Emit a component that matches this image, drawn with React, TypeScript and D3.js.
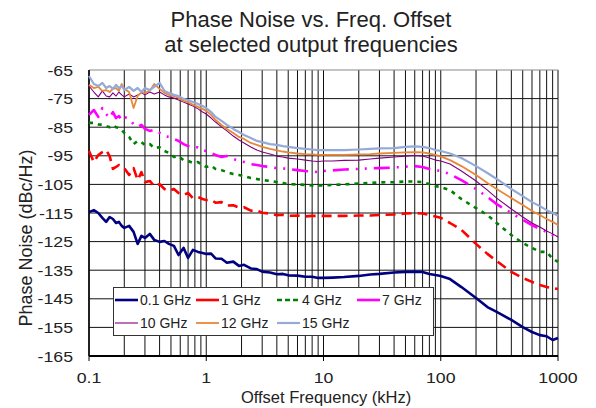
import React from 'react';
import * as d3 from 'd3';

const FREQ_KHZ = [
  0.1, 0.11, 0.12, 0.13, 0.14, 0.15, 0.16, 0.17, 0.18, 0.19, 0.2, 0.22, 0.24, 0.26, 0.28, 0.3, 0.33, 0.36, 0.4, 0.44, 0.48, 0.53, 0.58, 0.64, 0.7, 0.77, 0.85, 0.93,
  1.0, 1.1, 1.2, 1.35, 1.5, 1.7, 1.9, 2.1, 2.4, 2.7, 3.0, 3.5, 4, 4.5, 5, 6, 7, 8, 9,
  10, 12, 15, 20, 25, 30, 40, 50, 60, 70, 80, 90,
  100, 120, 150, 200, 250, 300, 400, 500, 600, 700, 800, 900, 1000,
];

const PN_0_1GHZ = [
  -114.7, -114, -115, -116.7, -118.1, -116.4, -117.1, -118.5, -118.1, -119.5, -120.2, -119.5, -121.6, -125.8, -123, -123.7, -122.3, -124.4, -125.1, -124.8, -125.8, -126.5, -129.7, -127.2, -130.7, -127.9, -128.6, -129,
  -129.3, -129.2, -130.9, -131, -132.4, -132, -133.5, -133.1, -134.4, -134.6, -135.5, -135.8, -136.4, -136.3, -136.8, -136.9, -137.3, -137.3, -137.7,
  -137.7, -137.6, -137.4, -137, -136.5, -136.3, -135.8, -135.6, -135.5, -135.6, -136.3, -136.7,
  -137, -138.1, -140.9, -144.7, -147.9, -149.6, -152.4, -154.9, -156.6, -157.7, -158.1, -159.4, -158.7,
];
const PN_1GHZ = [
  -93.3, -97.2, -94.7, -93.7, -93, -95.1, -99.6, -98.9, -98.2, -98.6, -99.3, -101.7, -99.3, -103.5, -100.7, -104.2, -103.8, -105.6, -104.9, -106.6, -107.3, -106.6, -108, -108.7, -108, -109.8, -109.4, -110.1,
  -110.5, -110.4, -111.4, -111.2, -112.4, -112.3, -113.1, -113, -114.2, -114.1, -114.9, -115.2, -115.8, -115.6, -116, -115.9, -116.2, -116, -116,
  -116, -116, -116, -115.9, -115.9, -115.7, -115.5, -115.2, -115, -115.2, -115.7, -116.2,
  -116.7, -118.5, -120.9, -125.8, -129.3, -131.8, -135.6, -137.7, -139.1, -140.2, -140.9, -141.2, -141.6,
];
const PN_4GHZ = [
  -83.5, -83.5, -84, -84.2, -84.6, -85, -84.3, -85, -85.3, -86, -87, -88.4, -90.9, -89.8, -90.2, -91.2, -90.9, -92.3, -92, -93.3, -94, -95.4, -95.1, -96.5, -96.8, -97.5, -97.2, -98.2,
  -98.9, -98.5, -99.6, -100, -100.7, -101.4, -101.7, -102.1, -102.8, -103.1, -103.5, -103.8, -104.2, -104.5, -104.9, -105, -105.2, -105.4, -105.4,
  -105.4, -105.2, -105, -104.7, -104.5, -104.3, -104.2, -104, -104, -104.2, -104.9, -105.6,
  -105.9, -107, -110.1, -113.3, -115.7, -118.5, -122.7, -125.5, -127.2, -128.6, -128.6, -131, -132.1,
];
const PN_7GHZ = [
  -80.7, -79, -81.4, -78.3, -80.4, -81.8, -79.7, -81.8, -81.1, -82.5, -81.4, -82.1, -83.9, -84.9, -84.2, -85.6, -86.3, -85.9, -87, -88.1, -88.4, -89.1, -89.8, -90.9, -91.6, -92.3, -92, -93,
  -93.3, -94, -94.7, -95.4, -95.1, -96.1, -96.8, -97.2, -97.9, -98.2, -98.6, -98.9, -99.3, -99.4, -99.6, -100, -100.3, -100.5, -100.7,
  -100.3, -100.1, -99.8, -99.6, -99.4, -99.3, -99.1, -98.8, -98.6, -98.9, -99.6, -100,
  -100.3, -101.4, -103.5, -106.6, -109.4, -111.9, -115, -117.4, -119.2, -120.6, -121.6, -122.7, -123.7,
];
const PN_10GHZ = [
  -70.6, -72.7, -74.4, -72.3, -74.1, -74.4, -73, -74.1, -72.7, -73.7, -74.4, -73.4, -74.4, -73.7, -73, -73.7, -72.7, -73.4, -72.7, -73.7, -74.4, -74.8, -75.5, -76.2, -76.9, -77.6, -78.6, -79.7,
  -80.4, -81.8, -83.2, -84.9, -86.3, -88.1, -89.5, -90.5, -91.9, -93, -93.7, -94.4, -95.1, -95.4, -95.8, -96.1, -96.5, -96.8, -97,
  -96.8, -96.8, -96.6, -96.5, -96.1, -95.8, -95.4, -95.1, -94.9, -95.1, -95.8, -96.5,
  -96.8, -97.9, -100.3, -103.8, -107, -109.8, -113.6, -116.4, -118.5, -119.9, -121.3, -122.3, -123.4,
];
const PN_12GHZ = [
  -70.2, -71.3, -70.9, -72.3, -72, -72.7, -71.6, -71.3, -72.3, -69.9, -71.6, -72.7, -78.3, -74.1, -72.7, -73, -72.3, -69.9, -71.6, -73, -73.7, -74.1, -74.8, -75.8, -76.2, -77.2, -77.9, -78.6,
  -79.3, -80.7, -82.5, -84.2, -85.6, -87, -88.4, -89.1, -90.5, -91.2, -91.9, -92.6, -93.1, -93.5, -93.8, -94.2, -94.4, -94.5, -94.7,
  -94.7, -94.7, -94.7, -94.5, -94.4, -94.2, -94, -93.8, -93.7, -93.8, -94.2, -94.7,
  -95.2, -96.5, -98.6, -101.7, -104.5, -106.6, -109.8, -112.2, -114.3, -115.7, -117.1, -118.1, -119.2,
];
const PN_15GHZ = [
  -67.1, -69.9, -70.6, -69.5, -71.3, -70.6, -71.6, -70.2, -71.3, -70.6, -72, -70.9, -72.3, -71.3, -72.7, -71.3, -72, -70.9, -69.5, -72.3, -73, -73.7, -74.1, -75.1, -75.5, -76.2, -76.9, -77.6,
  -78.3, -79.7, -81.4, -82.8, -84.2, -85.6, -86.7, -87.7, -88.8, -89.8, -90.2, -90.9, -91.2, -91.6, -91.9, -92.3, -92.6, -92.8, -93,
  -93, -93, -93, -92.8, -92.6, -92.4, -92.3, -91.9, -91.7, -91.9, -92.3, -93,
  -93.3, -94.2, -95.8, -98.6, -101, -103.1, -106.6, -109.1, -111.2, -112.6, -114, -115, -116,
];

const SERIES_NAMES = ['0.1 GHz', '1 GHz', '4 GHz', '7 GHz', '10 GHz', '12 GHz', '15 GHz'];
const SERIES_VALUES = [PN_0_1GHZ, PN_1GHZ, PN_4GHZ, PN_7GHZ, PN_10GHZ, PN_12GHZ, PN_15GHZ];

const X_TICKS = [0.1, 1, 10, 100, 1000];
const X_TICK_LABELS = ['0.1', '1', '10', '100', '1000'];
const Y_TICKS = [-65, -75, -85, -95, -105, -115, -125, -135, -145, -155, -165];

const TITLE_1 = 'Phase Noise vs. Freq. Offset';
const TITLE_2 = 'at selected output frequencies';
const X_TITLE = 'Offset Frequency (kHz)';
const Y_TITLE = 'Phase Noise (dBc/Hz)';

const STYLES = [
  { color: '#000080', width: 2.6, dash: '' },
  { color: '#FF0000', width: 2.6, dash: '10,6' },
  { color: '#008000', width: 2.6, dash: '4,5' },
  { color: '#FF00FF', width: 2.6, dash: '16,7,2,7,2,7' },
  { color: '#800080', width: 1.1, dash: '' },
  { color: '#E8873A', width: 1.8, dash: '' },
  { color: '#94AAD8', width: 2.2, dash: '' },
];

const FONT = '"Liberation Sans", Arial, Helvetica, sans-serif';

export default function App() {
  const W = 596, H = 408;
  const left = 89, right = 558, top = 70, bottom = 356;
  const x = d3.scaleLog().domain([0.1, 1000]).range([left, right]);
  const y = d3.scaleLinear().domain([-165, -65]).range([bottom, top]);

  const gridX: number[] = [];
  for (let d = 0; d < X_TICKS.length - 1; d++) {
    for (let k = 1; k <= 9; k++) gridX.push(X_TICKS[d] * k);
  }
  gridX.push(X_TICKS[X_TICKS.length - 1]);

  const line = (vals: number[]) =>
    d3.line<number>()
      .x((_, i) => x(FREQ_KHZ[i]))
      .y((v) => y(v))(vals) || '';

  const legendCols = [115, 196, 277, 357];
  const legendRows = [300, 323];

  return (
    <svg width={W} height={H} style={{ position: 'absolute', left: 0, top: 0, background: '#fff' }} fontFamily={FONT}>
      <rect x={0} y={0} width={W} height={H} fill="#fff" />
      <text x={311} y={27} textAnchor="middle" fontSize={22} fill="#222">{TITLE_1}</text>
      <text x={311} y={52} textAnchor="middle" fontSize={22} fill="#222">{TITLE_2}</text>

      {gridX.map((v, i) => (
        <line key={'gx' + i} x1={x(v)} x2={x(v)} y1={top} y2={bottom} stroke="#111" strokeWidth={1} />
      ))}
      {Y_TICKS.map((v) => (
        <line key={'gy' + v} x1={left} x2={right} y1={y(v)} y2={y(v)} stroke={v === -65 ? '#888' : '#111'} strokeWidth={1} />
      ))}
      <line x1={left} x2={left} y1={top} y2={bottom} stroke="#000" strokeWidth={1.5} />
      <line x1={left} x2={right} y1={bottom} y2={bottom} stroke="#000" strokeWidth={1.8} />
      {X_TICKS.map((v) => (
        <line key={'tx' + v} x1={x(v)} x2={x(v)} y1={bottom} y2={bottom + 5} stroke="#000" strokeWidth={1} />
      ))}

      {SERIES_VALUES.map((vals, si) => (
        <path key={'s' + si} d={line(vals)} fill="none" stroke={STYLES[si].color} strokeWidth={STYLES[si].width}
          strokeDasharray={STYLES[si].dash || undefined} strokeLinejoin="round" />
      ))}

      {X_TICKS.map((v, i) => (
        <text key={'xl' + v} transform={`translate(${x(v)},383) scale(1.18,1)`} textAnchor="middle" fontSize={15} fill="#222">{X_TICK_LABELS[i]}</text>
      ))}
      {Y_TICKS.map((v) => (
        <text key={'yl' + v} transform={`translate(73,${y(v) + 5.5}) scale(1.18,1)`} textAnchor="end" fontSize={15} fill="#222">{String(v)}</text>
      ))}

      <text x={326} y={403} textAnchor="middle" fontSize={16.5} fill="#222">{X_TITLE}</text>
      <text transform="translate(32,238) rotate(-90)" textAnchor="middle" fontSize={18} fill="#222">{Y_TITLE}</text>

      <rect x={113.5} y={287.5} width={320} height={48} fill="#fff" stroke="#333" strokeWidth={1} />
      {SERIES_NAMES.map((name, i) => {
        const col = i < 4 ? i : i - 4;
        const row = i < 4 ? 0 : 1;
        const lx = legendCols[col];
        const ly = legendRows[row];
        const st = STYLES[i];
        return (
          <g key={'lg' + i}>
            <line x1={lx} x2={lx + 23} y1={ly} y2={ly} stroke={st.color} strokeWidth={i === 4 ? 2 : st.width}
              strokeDasharray={i === 2 ? '5,3' : undefined} opacity={i === 4 ? 0.55 : 1} />
            <text x={lx + 25} y={ly + 5} fontSize={14} fill="#222">{name}</text>
          </g>
        );
      })}
    </svg>
  );
}
